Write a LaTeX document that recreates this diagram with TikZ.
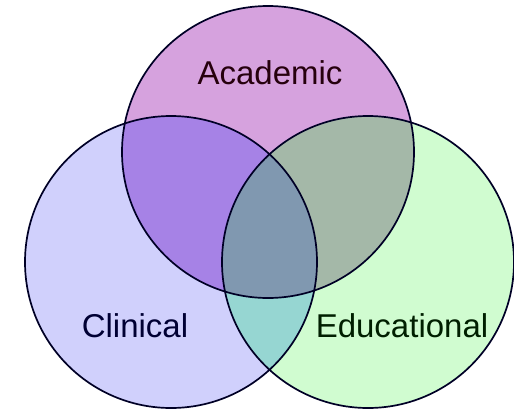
\documentclass[tikz,border=0pt]{standalone}
\usepackage{fontspec}
\setmainfont{Liberation Sans}
\begin{document}
\begin{tikzpicture}[x=1pt,y=-1pt,
  setlabel/.style={font=\fontsize{33}{38}\selectfont, inner sep=0pt, anchor=base},
  outline/.style={draw=black!85!blue, line width=1.7pt}]
\definecolor{acad}{RGB}{214,162,222}
\definecolor{clin}{RGB}{208,208,252}
\definecolor{educ}{RGB}{208,252,208}
\definecolor{acadclin}{RGB}{166,130,230}
\definecolor{acadeduc}{RGB}{164,184,168}
\definecolor{clineduc}{RGB}{150,214,210}
\definecolor{allthree}{RGB}{128,152,176}
\useasboundingbox (0,0) rectangle (514,408);
\fill[white] (0,0) rectangle (514,408);
% circle centres
\coordinate (A) at (268,152);
\coordinate (C) at (171,262);
\coordinate (E) at (368,262);
\def\rad{146}
% single-set fills
\fill[acad] (A) circle (\rad);
\fill[clin] (C) circle (\rad);
\fill[educ] (E) circle (\rad);
% pairwise overlaps
\begin{scope}
  \clip (A) circle (\rad);
  \fill[acadclin] (C) circle (\rad);
  \fill[acadeduc] (E) circle (\rad);
\end{scope}
\begin{scope}
  \clip (C) circle (\rad);
  \fill[clineduc] (E) circle (\rad);
\end{scope}
% triple overlap
\begin{scope}
  \clip (A) circle (\rad);
  \clip (C) circle (\rad);
  \fill[allthree] (E) circle (\rad);
\end{scope}
% outlines
\draw[outline] (A) circle (\rad);
\draw[outline] (C) circle (\rad);
\draw[outline] (E) circle (\rad);
% labels
\node[setlabel, text=black!80!purple] (acadlabel) at (270,84) {Academic};
\node[setlabel, text=black!80!blue] (clinlabel) at (135,337) {Clinical};
\node[setlabel, text=black!80!green!60!black] (educlabel) at (402,337) {Educational};
\end{tikzpicture}
\end{document}
